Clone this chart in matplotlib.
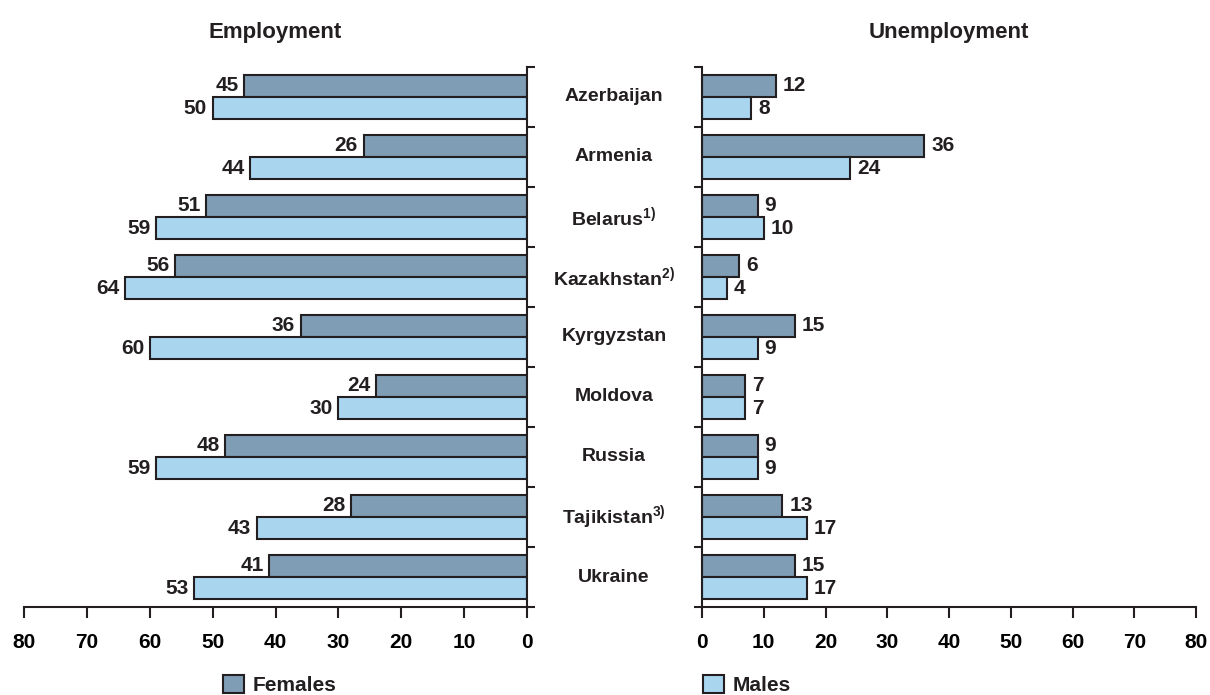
import numpy as np
import matplotlib
matplotlib.use('Agg')
import matplotlib.pyplot as plt
import matplotlib.transforms as mtransforms
from matplotlib.patches import Patch

countries = ['Azerbaijan', 'Armenia', 'Belarus', 'Kazakhstan', 'Kyrgyzstan',
             'Moldova', 'Russia', 'Tajikistan', 'Ukraine']
notes = ['', '', '1)', '2)', '', '', '', '3)', '']

emp_female = [45, 26, 51, 56, 36, 24, 48, 28, 41]
emp_male = [50, 44, 59, 64, 60, 30, 59, 43, 53]
unemp_female = [12, 36, 9, 6, 15, 7, 9, 13, 15]
unemp_male = [8, 24, 10, 4, 9, 7, 9, 17, 17]

xticks = [0, 10, 20, 30, 40, 50, 60, 70, 80]

dark = '#231f20'
c_female = '#7f9db5'
c_male = '#a9d5ef'

plt.rcParams['font.family'] = ['Liberation Sans', 'DejaVu Sans']
plt.rcParams['font.weight'] = 'bold'
plt.rcParams['mathtext.fontset'] = 'custom'
plt.rcParams['mathtext.rm'] = 'Liberation Sans:bold'
plt.rcParams['mathtext.bf'] = 'Liberation Sans:bold'
plt.rcParams['mathtext.it'] = 'Liberation Sans:bold'
plt.rcParams['text.color'] = dark

fig = plt.figure(figsize=(12.1, 6.95), dpi=100)
ax1 = fig.add_axes([24 / 1210, 88 / 695, 503 / 1210, 540 / 695])
ax2 = fig.add_axes([702 / 1210, 88 / 695, 494 / 1210, 540 / 695])

y = np.arange(len(countries))
h = 0.367

for ax, fem, mal, side in [(ax1, emp_female, emp_male, -1), (ax2, unemp_female, unemp_male, 1)]:
    ax.barh(y - h / 2, fem, height=h, color=c_female, edgecolor=dark, linewidth=1.5)
    ax.barh(y + h / 2, mal, height=h, color=c_male, edgecolor=dark, linewidth=1.5)
    for yy, vals in [(y - h / 2, fem), (y + h / 2, mal)]:
        for v, p in zip(vals, yy):
            ax.annotate(str(v), (v, p), xytext=(side * (4 if side < 0 else 5), 0),
                        textcoords='offset points', va='center',
                        ha='right' if side < 0 else 'left',
                        fontsize=15, fontweight='bold', color=dark)
    ax.set_ylim(8.5, -0.5)
    ax.set_yticks(np.arange(-0.5, 9, 1))
    ax.set_yticklabels([])
    ax.set_xticks(xticks)
    ax.set_xticklabels([str(v) for v in xticks], fontsize=15, fontweight='bold')
    ax.tick_params(axis='x', length=8, width=1.5, color=dark, pad=11)
    ax.tick_params(axis='y', length=6, width=1.5, color=dark)
    ax.spines['top'].set_visible(False)
    for s in ax.spines.values():
        s.set_linewidth(1.5)
        s.set_color(dark)

ax1.set_xlim(80, 0)
ax1.spines['left'].set_visible(False)
ax1.yaxis.tick_right()
ax2.set_xlim(0, 80)
ax2.spines['right'].set_visible(False)
ax2.yaxis.tick_left()

ax1.set_title('Employment', fontsize=16, fontweight='bold', pad=21)
ax2.set_title('Unemployment', fontsize=16, fontweight='bold', pad=21)

trans = mtransforms.blended_transform_factory(fig.transFigure, ax1.transData)
for i, (name, note) in enumerate(zip(countries, notes)):
    label = name + (r'$^{\rm ' + note + '}$' if note else '')
    fig.text(614 / 1210, i, label, transform=trans, ha='center', va='center',
             fontsize=14, fontweight='bold')

fig.legend(handles=[Patch(facecolor=c_female, edgecolor=dark, linewidth=1.5, label='Females')],
           loc='center left', bbox_to_anchor=(213 / 1210, 1 - 685 / 695), frameon=False,
           fontsize=15, handlelength=1.0, handleheight=1.0, handletextpad=0.4, borderpad=0)
fig.legend(handles=[Patch(facecolor=c_male, edgecolor=dark, linewidth=1.5, label='Males')],
           loc='center left', bbox_to_anchor=(693 / 1210, 1 - 685 / 695), frameon=False,
           fontsize=15, handlelength=1.0, handleheight=1.0, handletextpad=0.4, borderpad=0)

fig.savefig('out.png', dpi=100)
